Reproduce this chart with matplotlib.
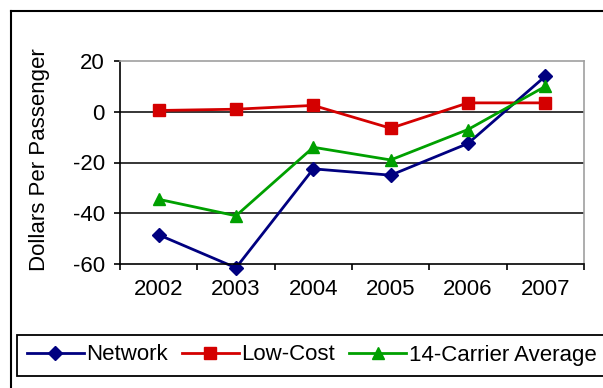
import numpy as np
import matplotlib.pyplot as plt
from matplotlib.lines import Line2D

plt.rcParams.update({
    "font.family": ["Liberation Sans", "DejaVu Sans"],
    "font.size": 16,
    "axes.unicode_minus": False
})

years = ['2002', '2003', '2004', '2005', '2006', '2007']
network = [-48.5, -61.5, -22.5, -25, -12.5, 14]
low_cost = [0.5, 1, 2.5, -6.5, 3.5, 3.5]
carrier14 = [-34.5, -41, -14, -19, -7, 10]

W, H = 603, 388
fig = plt.figure(figsize=[W/100, H/100], dpi=100)
ax = fig.add_axes([120/W, 1-264/H, (584-120)/W, (264-61)/H])

x = np.arange(len(years))
ax.plot(x, network, color='#000080', lw=2, marker='D', ms=7, label='Network', clip_on=False)
ax.plot(x, low_cost, color='#D40000', lw=2, marker='s', ms=8, label='Low-Cost', clip_on=False)
ax.plot(x, carrier14, color='#00A000', lw=2, marker='^', ms=9, label='14-Carrier Average', clip_on=False)

ax.set_xlim(-0.5, len(years)-0.5)
ax.set_ylim(-60, 20)
ax.set_yticks([-60, -40, -20, 0, 20])
ax.set_xticks(x)
ax.set_xticklabels(years)
ax.set_xticks(np.arange(-0.5, len(years)), minor=True)
ax.tick_params(axis='x', which='major', length=0, pad=11)
ax.tick_params(axis='x', which='minor', length=4, width=1.2, direction='out')
ax.tick_params(axis='y', length=4, width=1.2, direction='out', pad=7)

for v in [-40, -20, 0]:
    ax.axhline(v, color='black', lw=1.1, zorder=1)

ax.spines['left'].set_linewidth(1.2)
ax.spines['bottom'].set_linewidth(1.2)
ax.spines['top'].set_color('#A0A0A0')
ax.spines['right'].set_color('#A0A0A0')
ax.spines['top'].set_linewidth(1.2)
ax.spines['right'].set_linewidth(1.2)

fig.text(40/W, 1-160/H, 'Dollars Per Passenger', rotation=90, ha='center', va='center', fontsize=16)

leg = fig.legend(loc='center', bbox_to_anchor=((21+602)/2/W, 1-355/H), ncol=3,
                 frameon=True, fancybox=False, edgecolor='black', framealpha=1,
                 handlelength=2.6, handletextpad=0.1, columnspacing=0.6, borderpad=0.45,
                 fontsize=16)
leg.get_frame().set_linewidth(1.3)

# outer chart frame
fig.add_artist(Line2D([11/W, 11/W], [0, 1-11/H], color='black', lw=1.5))
fig.add_artist(Line2D([11/W, 1], [1-11/H, 1-11/H], color='black', lw=1.5))

plt.savefig('out.png', dpi=100)
